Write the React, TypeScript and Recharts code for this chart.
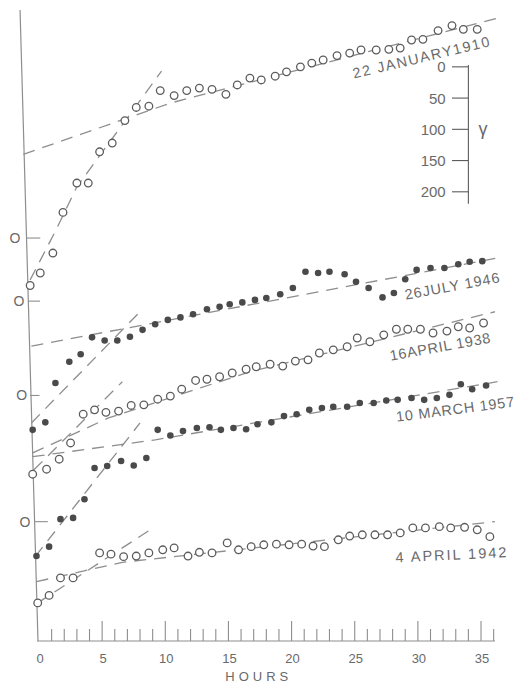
import {
  ComposedChart,
  Scatter,
  Line,
  XAxis,
  YAxis,
  ReferenceLine,
  ReferenceDot,
} from 'recharts';

// storms, as named on the plot
const STORMS = ['22 JANUARY1910', '26JULY 1946', '16APRIL 1938', '10 MARCH 1957', '4 APRIL 1942'];

// readings: hour after onset, and level in gamma (curves are stacked, measured up from the base line)
const JAN_1910_HOURS = [-0.7, 0.1, 1.1, 1.9, 3.0, 3.9, 4.8, 5.8, 6.8, 7.7, 8.7, 9.6, 10.7, 11.7, 12.7, 13.7, 14.8, 15.7, 16.7, 17.6, 18.7, 19.6, 20.7, 21.6, 22.5, 23.6, 24.6, 25.5, 26.7, 27.7, 28.6, 29.5, 30.4, 31.6, 32.7, 33.6, 34.7];
const JAN_1910_VALUES = [572, 592, 624, 689, 736, 736, 786, 800, 836, 857, 859, 884, 876, 884, 888, 886, 878, 893, 904, 901, 907, 914, 922, 928, 933, 940, 944, 949, 949, 950, 952, 965, 966, 980, 988, 982, 982];

const JUL_1946_HOURS = [-0.5, 0.5, 1.3, 2.4, 3.3, 4.2, 5.2, 6.2, 7.2, 8.2, 9.2, 10.2, 11.2, 12.2, 13.3, 14.3, 15.1, 16.1, 17.1, 18.0, 19.1, 20.1, 21.1, 22.1, 23.0, 24.2, 25.1, 26.1, 27.2, 28.1, 29.0, 29.9, 31.0, 32.1, 33.2, 34.1, 35.1];
const JUL_1946_VALUES = [341, 353, 416, 450, 462, 489, 484, 484, 490, 501, 510, 517, 521, 526, 534, 538, 542, 545, 549, 552, 558, 568, 594, 592, 594, 590, 578, 568, 553, 560, 582, 597, 600, 600, 606, 610, 611];

const APR_1938_HOURS = [-0.5, 0.6, 1.6, 2.5, 3.5, 4.4, 5.3, 6.3, 7.3, 8.3, 9.4, 10.4, 11.3, 12.4, 13.3, 14.3, 15.3, 16.4, 17.2, 18.3, 19.3, 20.3, 21.3, 22.2, 23.3, 24.4, 25.2, 26.2, 27.3, 28.3, 29.2, 30.2, 31.2, 32.3, 33.2, 34.1, 35.2];
const APR_1938_VALUES = [270, 278, 294, 320, 366, 373, 369, 371, 380, 381, 390, 395, 406, 420, 422, 426, 432, 438, 442, 446, 443, 451, 453, 464, 469, 474, 488, 482, 493, 502, 502, 502, 496, 499, 506, 504, 512];

const MAR_1957_HOURS = [-0.2, 0.8, 1.7, 2.7, 3.6, 4.4, 5.4, 6.5, 7.5, 8.5, 9.4, 10.4, 11.4, 12.5, 13.5, 14.4, 15.4, 16.4, 17.3, 18.4, 19.4, 20.4, 21.4, 22.4, 23.3, 24.4, 25.4, 26.5, 27.5, 28.4, 29.5, 30.5, 31.5, 32.5, 33.4, 34.3, 35.4];
const MAR_1957_VALUES = [139, 154, 198, 200, 230, 280, 283, 291, 284, 296, 341, 332, 339, 344, 345, 341, 344, 342, 350, 353, 363, 366, 373, 376, 378, 378, 384, 384, 388, 389, 392, 389, 392, 397, 414, 406, 412];

const APR_1942_HOURS = [-0.1, 0.8, 1.7, 2.7, 4.8, 5.7, 6.7, 7.7, 8.7, 9.8, 10.7, 11.8, 12.7, 13.7, 14.9, 15.8, 16.8, 17.8, 18.8, 19.8, 20.8, 21.7, 22.6, 23.7, 24.6, 25.6, 26.6, 27.6, 28.6, 29.6, 30.6, 31.7, 32.6, 33.7, 34.7, 35.7];
const APR_1942_VALUES = [64, 76, 104, 104, 144, 142, 138, 139, 144, 149, 152, 139, 145, 144, 160, 149, 154, 157, 158, 157, 158, 155, 154, 165, 171, 173, 173, 173, 176, 184, 184, 186, 184, 185, 181, 170];

// dashed fits: fast initial recovery and slow later recovery
const JAN_1910_FAST_HOURS = [-0.7, 1.35, 3.0, 9.7];
const JAN_1910_FAST_VALUES = [581, 661, 730, 915];
const JAN_1910_SLOW_HOURS = [-1.24, 10.4, 36.3];
const JAN_1910_SLOW_VALUES = [782, 864, 1000];
const JUL_1946_FAST_HOURS = [-0.6, 8.0];
const JUL_1946_FAST_VALUES = [352, 530];
const JUL_1946_SLOW_HOURS = [-0.6, 36.3];
const JUL_1946_SLOW_VALUES = [475, 616];
const APR_1938_FAST_HOURS = [-0.4, 6.6];
const APR_1938_FAST_VALUES = [277, 418];
const APR_1938_SLOW_HOURS = [-0.5, 5.5, 16.7, 36.1];
const APR_1938_SLOW_VALUES = [304, 360, 434, 530];
const MAR_1957_FAST_HOURS = [-0.3, 8.0];
const MAR_1957_FAST_VALUES = [138, 352];
const MAR_1957_SLOW_HOURS = [-0.5, 9.2, 36.3];
const MAR_1957_SLOW_VALUES = [298, 325, 418];
const APR_1942_FAST_HOURS = [-0.1, 8.8];
const APR_1942_FAST_VALUES = [64, 181];
const APR_1942_SLOW_HOURS = [-0.2, 6.6, 36.1];
const APR_1942_SLOW_VALUES = [98, 129, 194];

// zero levels marked on the left axis
const ZERO_LEVELS = [648, 547, 396, 194];

// gamma scale bar
const SCALE_TICKS = [0, 50, 100, 150, 200];
const SCALE_ORIGIN = 922;

const HOUR_TICKS = [0, 1, 2, 3, 4, 5, 6, 7, 8, 9, 10, 11, 12, 13, 14, 15, 16, 17, 18, 19, 20, 21, 22, 23, 24, 25, 26, 27, 28, 29, 30, 31, 32, 33, 34, 35, 36];
const HOUR_LABELS = [0, 5, 10, 15, 20, 25, 30, 35];

const zip = (xs: number[], ys: number[]) => xs.map((x, i) => ({ x, y: ys[i] }));

const SERIES = [
  { name: STORMS[0], data: zip(JAN_1910_HOURS, JAN_1910_VALUES), filled: false },
  { name: STORMS[1], data: zip(JUL_1946_HOURS, JUL_1946_VALUES), filled: true },
  { name: STORMS[2], data: zip(APR_1938_HOURS, APR_1938_VALUES), filled: false },
  { name: STORMS[3], data: zip(MAR_1957_HOURS, MAR_1957_VALUES), filled: true },
  { name: STORMS[4], data: zip(APR_1942_HOURS, APR_1942_VALUES), filled: false },
];

const FITS = [
  zip(JAN_1910_FAST_HOURS, JAN_1910_FAST_VALUES),
  zip(JAN_1910_SLOW_HOURS, JAN_1910_SLOW_VALUES),
  zip(JUL_1946_FAST_HOURS, JUL_1946_FAST_VALUES),
  zip(JUL_1946_SLOW_HOURS, JUL_1946_SLOW_VALUES),
  zip(APR_1938_FAST_HOURS, APR_1938_FAST_VALUES),
  zip(APR_1938_SLOW_HOURS, APR_1938_SLOW_VALUES),
  zip(MAR_1957_FAST_HOURS, MAR_1957_FAST_VALUES),
  zip(MAR_1957_SLOW_HOURS, MAR_1957_SLOW_VALUES),
  zip(APR_1942_FAST_HOURS, APR_1942_FAST_VALUES),
  zip(APR_1942_SLOW_HOURS, APR_1942_SLOW_VALUES),
];

// where the storm names sit (data coords), their tilt and length
const NAME_PLACES = [
  { x: 30.25, y: 937, angle: -13.4, length: 140 },
  { x: 32.7, y: 571, angle: -10.5, length: 96 },
  { x: 31.75, y: 474, angle: -10.3, length: 102 },
  { x: 32.94, y: 374, angle: -7.4, length: 119 },
  { x: 32.62, y: 141, angle: -2.7, length: 111 },
];
const ZERO_MARK_PLACES = [
  { o: -1.9, from: -1.0, to: 0.1 },
  { o: -1.58, from: -0.85, to: 0.08 },
  { o: -1.37, from: -0.7, to: 0.04 },
  { o: -1.11, from: -0.35, to: 0.7 },
];

const INK = '#5c5c5c';
const PALE = '#8e8e8e';
const TEXT = '#6a6a6a';
const FONT = '"Liberation Sans", Arial, sans-serif';

const OpenDot = (p: any) => (
  <circle cx={p.cx} cy={p.cy} r={3.8} fill="#fff" stroke={INK} strokeWidth={1.3} />
);
const FilledDot = (p: any) => <circle cx={p.cx} cy={p.cy} r={3.3} fill="#4a4a4a" />;

const HourTick = (p: any) => {
  const v = p.payload.value;
  const major = v % 5 === 0;
  return (
    <g>
      {v > 0 && (
        <line x1={p.x} y1={p.y} x2={p.x} y2={p.y - (major ? 20 : 12)} stroke={PALE} strokeWidth={1.1} />
      )}
      {HOUR_LABELS.includes(v) && (
        <text x={p.x + 1} y={p.y + 22} textAnchor="middle" fontSize={13} fill={TEXT} fontFamily={FONT}>
          {v}
        </text>
      )}
    </g>
  );
};

const textShape = (
  text: string,
  opts: { size?: number; anchor?: string; angle?: number; length?: number; spacing?: number }
) =>
  (p: any) => {
    const { size = 14, anchor = 'middle', angle = 0, length, spacing } = opts;
    return (
      <text
        x={p.cx}
        y={p.cy}
        textAnchor={anchor}
        dominantBaseline="central"
        fontSize={size}
        fill={TEXT}
        fontFamily={FONT}
        letterSpacing={spacing}
        textLength={length}
        lengthAdjust={length ? 'spacing' : undefined}
        transform={angle ? `rotate(${angle} ${p.cx} ${p.cy})` : undefined}
      >
        {text}
      </text>
    );
  };

export default function App() {
  return (
    <div style={{ position: 'absolute', left: 0, top: 0, width: 516, height: 685, background: '#fff' }}>
      <ComposedChart width={516} height={685} margin={{ top: 10, right: 17.3, bottom: 0, left: 9 }}>
        <XAxis
          type="number"
          dataKey="x"
          domain={[-2.375, 36.4]}
          allowDataOverflow
          ticks={HOUR_TICKS}
          interval={0}
          axisLine={false}
          tickLine={false}
          tickSize={0}
          tickMargin={0}
          height={44}
          tick={HourTick}
        />
        <YAxis type="number" dataKey="y" domain={[3, 1013]} allowDataOverflow hide />

        {/* axes */}
        <ReferenceLine ifOverflow="visible" segment={[{ x: -1.5, y: 1013 }, { x: -0.08, y: 3 }]} stroke={PALE} strokeWidth={1.2} />
        <ReferenceLine ifOverflow="visible" segment={[{ x: -0.15, y: 3 }, { x: 36.1, y: 3 }]} stroke={PALE} strokeWidth={1.2} />

        {ZERO_LEVELS.map((z, i) => (
          <ReferenceLine
            key={`zt${i}`}
            ifOverflow="visible"
            segment={[{ x: ZERO_MARK_PLACES[i].from, y: z }, { x: ZERO_MARK_PLACES[i].to, y: z }]}
            stroke={PALE}
            strokeWidth={1.1}
          />
        ))}
        {ZERO_LEVELS.map((z, i) => (
          <ReferenceDot key={`zo${i}`} ifOverflow="visible" x={ZERO_MARK_PLACES[i].o} y={z} r={1} shape={textShape('O', { size: 14 })} />
        ))}

        {/* gamma scale */}
        <ReferenceLine ifOverflow="visible" segment={[{ x: 34.0, y: SCALE_ORIGIN + 3 }, { x: 34.0, y: SCALE_ORIGIN - 219 }]} stroke={INK} strokeWidth={1.1} />
        {SCALE_TICKS.map((t) => (
          <ReferenceLine
            key={`st${t}`}
            ifOverflow="visible"
            segment={[{ x: 32.7, y: SCALE_ORIGIN - t }, { x: 34.0, y: SCALE_ORIGIN - t }]}
            stroke={INK}
            strokeWidth={1.1}
          />
        ))}
        {SCALE_TICKS.map((t) => (
          <ReferenceDot key={`sl${t}`} ifOverflow="visible" x={32.2} y={SCALE_ORIGIN - t} r={1} shape={textShape(String(t), { size: 15, anchor: 'end' })} />
        ))}
        <ReferenceDot ifOverflow="visible" x={35.15} y={SCALE_ORIGIN - 100} r={1} shape={textShape('γ', { size: 18 })} />

        {/* fitted lines */}
        {FITS.map((f, i) => (
          <Line
            key={`fit${i}`}
            data={f}
            dataKey="y"
            type="linear"
            stroke={PALE}
            strokeWidth={1.3}
            strokeDasharray="12 8"
            dot={false}
            activeDot={false}
            isAnimationActive={false}
          />
        ))}

        {/* readings */}
        {SERIES.map((s) => (
          <Scatter
            key={s.name}
            name={s.name}
            data={s.data}
            shape={s.filled ? FilledDot : OpenDot}
            isAnimationActive={false}
          />
        ))}

        {SERIES.map((s, i) => (
          <ReferenceDot
            key={`n${i}`}
            ifOverflow="visible"
            x={NAME_PLACES[i].x}
            y={NAME_PLACES[i].y}
            r={1}
            shape={textShape(s.name, { size: 14.5, angle: NAME_PLACES[i].angle, length: NAME_PLACES[i].length })}
          />
        ))}

        <ReferenceDot ifOverflow="visible" x={17.4} y={-54} r={1} shape={textShape('HOURS', { size: 13, spacing: 4 })} />
      </ComposedChart>
    </div>
  );
}
